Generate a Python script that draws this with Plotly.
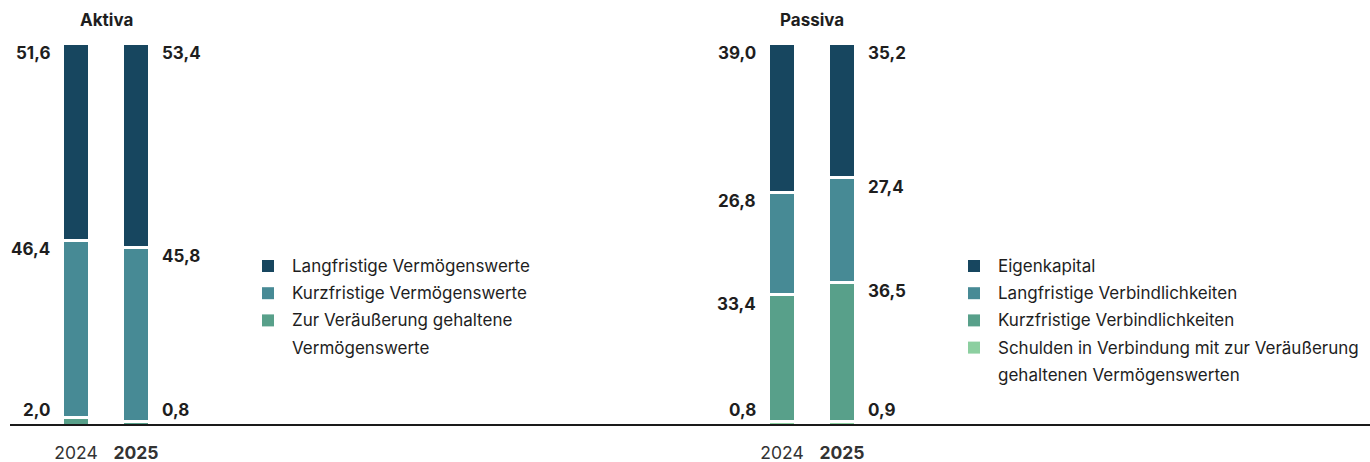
import plotly.graph_objects as go

# ---------------- data ----------------
years = ["2024", "2025"]
year_ticktext = ["2024", "<b>2025</b>"]

# Aktiva (stack bottom -> top)
aktiva_veraeusserung = [2.0, 0.8]
aktiva_kurzfristig = [46.4, 45.8]
aktiva_langfristig = [51.6, 53.4]
aktiva_names = ["Zur Veräußerung gehaltene<br>Vermögenswerte",
                "Kurzfristige Vermögenswerte",
                "Langfristige Vermögenswerte"]

# Passiva (stack bottom -> top)
passiva_schulden = [0.8, 0.9]
passiva_kurzfristig = [33.4, 36.5]
passiva_langfristig = [26.8, 27.4]
passiva_eigenkapital = [39.0, 35.2]
passiva_names = ["Schulden in Verbindung mit zur Veräußerung<br>gehaltenen Vermögenswerten",
                 "Kurzfristige Verbindlichkeiten",
                 "Langfristige Verbindlichkeiten",
                 "Eigenkapital"]

group_titles = ["Aktiva", "Passiva"]

# ---------------- style ----------------
W, H = 1370, 462
MB = 37
PLOT_H = H - MB
C_DARK = "#17465f"
C_TEAL = "#478a95"
C_GREEN = "#58a08a"
C_LIGHT = "#8ccfa0"
TXT = "#1e1e1e"
FONT = "Inter, Roboto, Arial, sans-serif"

aktiva_series = [aktiva_veraeusserung, aktiva_kurzfristig, aktiva_langfristig]
aktiva_colors = [C_GREEN, C_TEAL, C_DARK]
passiva_series = [passiva_schulden, passiva_kurzfristig, passiva_langfristig, passiva_eigenkapital]
passiva_colors = [C_LIGHT, C_GREEN, C_TEAL, C_DARK]

Y_MAX = 100 * PLOT_H / 381.5
MIN_LABEL_Y = 6.4


def fmt(v):
    return f"{v:.1f}".replace(".", ",")


def px_x(px):
    return px / W


def px_y(py):
    return 1 - py / PLOT_H


fig = go.Figure()
annotations = []
shapes = []

groups = [("x", aktiva_series, aktiva_names, aktiva_colors),
          ("x2", passiva_series, passiva_names, passiva_colors)]

for xa, series, names, colors in groups:
    for vals, name, col in zip(series, names, colors):
        fig.add_trace(go.Bar(
            x=years, y=vals, name=name.replace("<br>", " "),
            xaxis=xa, yaxis="y", width=0.45,
            marker=dict(color=col, line=dict(color="white", width=3)),
            showlegend=False, hoverinfo="skip",
        ))
    # value labels at segment tops
    cum = [0.0, 0.0]
    for vals in series:
        for i, v in enumerate(vals):
            cum[i] += v
            annotations.append(dict(
                x=i, y=max(cum[i], MIN_LABEL_Y), xref=xa, yref="y",
                text=f"<b>{fmt(v)}</b>", showarrow=False,
                xanchor="right" if i == 0 else "left", yanchor="top",
                xshift=-24 if i == 0 else 24, yshift=3,
                font=dict(family=FONT, size=17, color=TXT),
            ))

# group titles
for xa, title in zip(["x", "x2"], group_titles):
    annotations.append(dict(
        x=0.5, y=1, xref=f"{xa} domain", yref="paper", yshift=-20,
        text=f"<b>{title}</b>", showarrow=False, xanchor="center", yanchor="middle",
        font=dict(family=FONT, size=17, color=TXT),
    ))

# custom legends
legend_specs = [
    (262, 290, list(reversed(aktiva_names)), list(reversed(aktiva_colors))),
    (968, 996, list(reversed(passiva_names)), list(reversed(passiva_colors))),
]
LINE_Y0 = 266
LINE_DY = 27.2
for sq_x, tx_x, names, colors in legend_specs:
    line = 0
    for name, col in zip(names, colors):
        cy = LINE_Y0 + line * LINE_DY
        shapes.append(dict(type="rect", xref="paper", yref="paper",
                           x0=px_x(sq_x), x1=px_x(sq_x + 12),
                           y0=px_y(cy + 6), y1=px_y(cy - 6),
                           fillcolor=col, line=dict(width=0)))
        for part in name.split("<br>"):
            cy = LINE_Y0 + line * LINE_DY
            annotations.append(dict(
                x=px_x(tx_x), y=px_y(cy), xref="paper", yref="paper",
                text=part, showarrow=False, xanchor="left", yanchor="middle",
                font=dict(family=FONT, size=17, color=TXT),
            ))
            line += 1

# baseline
shapes.append(dict(type="line", xref="paper", yref="paper",
                   x0=px_x(10), x1=1, y0=0, y1=0,
                   line=dict(color="#1a1a1a", width=2)))

axis_common = dict(
    type="category", range=[-0.5, 1.5], showgrid=False, zeroline=False,
    showline=False, ticks="", tickvals=years, ticktext=year_ticktext,
    tickfont=dict(family=FONT, size=17.5, color="#333333"), ticklabelstandoff=15,
    fixedrange=True, automargin=False,
)

fig.update_layout(
    width=W, height=H,
    margin=dict(l=0, r=0, t=0, b=MB, autoexpand=False),
    paper_bgcolor="white", plot_bgcolor="white",
    barmode="stack",
    xaxis=dict(domain=[px_x(46), px_x(166)], anchor="y", **axis_common),
    xaxis2=dict(domain=[px_x(752), px_x(872)], anchor="y", **axis_common),
    yaxis=dict(range=[0, Y_MAX], visible=False, fixedrange=True, automargin=False),
    annotations=annotations,
    shapes=shapes,
    showlegend=False,
    font=dict(family=FONT, color=TXT),
)

fig.write_html("out.html")
